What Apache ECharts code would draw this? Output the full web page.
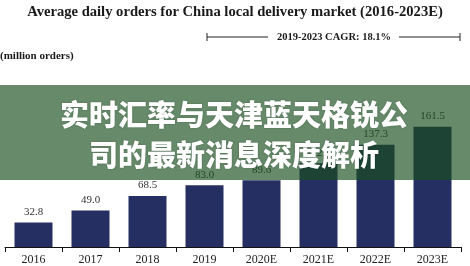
<!DOCTYPE html>
<html><head><meta charset="utf-8">
<script src="https://cdn.jsdelivr.net/npm/echarts@6/dist/echarts.min.js"></script>
<style>html,body{margin:0;padding:0;background:#fff}#c{width:470px;height:266px}</style>
</head><body><div id="c"></div>
<script>
const categories = ['2016','2017','2018','2019','2020E','2021E','2022E','2023E'];
const orders = [32.8, 49.0, 68.5, 83.0, 89.6, 112.5, 137.3, 161.5];
const titleText = 'Average daily orders for China local delivery market (2016-2023E)';
const unitText = '(million orders)';
const cagrText = '2019-2023 CAGR: 18.1%';
const overlayLines = ['实时汇率与天津蓝天格锐公', '司的最新消息深度解析'];

const serif = '"Liberation Serif","DejaVu Serif",serif';
const chart = echarts.init(document.getElementById('c'));
chart.setOption({
  animation: false,
  backgroundColor: '#fff',
  title: {
    text: titleText, left: 'center', top: 0,
    textStyle: {fontFamily: serif, fontWeight: 'bold', fontSize: 14.6, color: '#1a1a1a'}
  },
  grid: {left: 5, right: 9, top: 98, bottom: 19, containLabel: false},
  xAxis: {
    type: 'category', data: categories,
    axisLine: {lineStyle: {color: '#111', width: 1}},
    axisTick: {show: true, length: 5, lineStyle: {color: '#111'}},
    axisLabel: {fontFamily: serif, fontSize: 12, color: '#222', margin: 7}
  },
  yAxis: {type: 'value', min: 0, max: 200, show: false, splitLine: {show: false}},
  series: [{
    type: 'bar', data: orders, barWidth: 38,
    itemStyle: {color: '#262f62'},
    label: {show: true, position: 'top', distance: 5, fontFamily: serif, fontSize: 11, color: '#333',
      formatter: p => p.value.toFixed(1)}
  }],
  graphic: [
    {type: 'text', left: 0, top: 51, style: {text: unitText, font: 'bold 11px ' + serif, fill: '#1a1a1a'}},
    {type: 'line', shape: {x1: 207, y1: 37, x2: 268, y2: 37}, style: {stroke: '#222', lineWidth: 1}},
    {type: 'line', shape: {x1: 399, y1: 37, x2: 460, y2: 37}, style: {stroke: '#222', lineWidth: 1}},
    {type: 'line', shape: {x1: 207, y1: 33, x2: 207, y2: 41}, style: {stroke: '#222', lineWidth: 1}},
    {type: 'line', shape: {x1: 460, y1: 33, x2: 460, y2: 41}, style: {stroke: '#222', lineWidth: 1}},
    {type: 'text', x: 334, y: 37, style: {text: cagrText, font: 'bold 10.5px ' + serif, fill: '#1a1a1a', align: 'center', verticalAlign: 'middle'}},
    {type: 'rect', z: 100, shape: {x: 0, y: 85, width: 470, height: 95}, style: {fill: 'rgba(23,78,29,0.66)'}},
    {type: 'text', z: 101, x: 234, y: 115, style: {text: overlayLines[0], font: '900 29px "Noto Sans CJK SC"', fill: '#fff', align: 'center', verticalAlign: 'middle', textShadowColor: 'rgba(0,0,0,0.25)', textShadowBlur: 2}},
    {type: 'text', z: 101, x: 234, y: 155, style: {text: overlayLines[1], font: '900 29px "Noto Sans CJK SC"', fill: '#fff', align: 'center', verticalAlign: 'middle', textShadowColor: 'rgba(0,0,0,0.25)', textShadowBlur: 2}}
  ]
});
</script></body></html>
